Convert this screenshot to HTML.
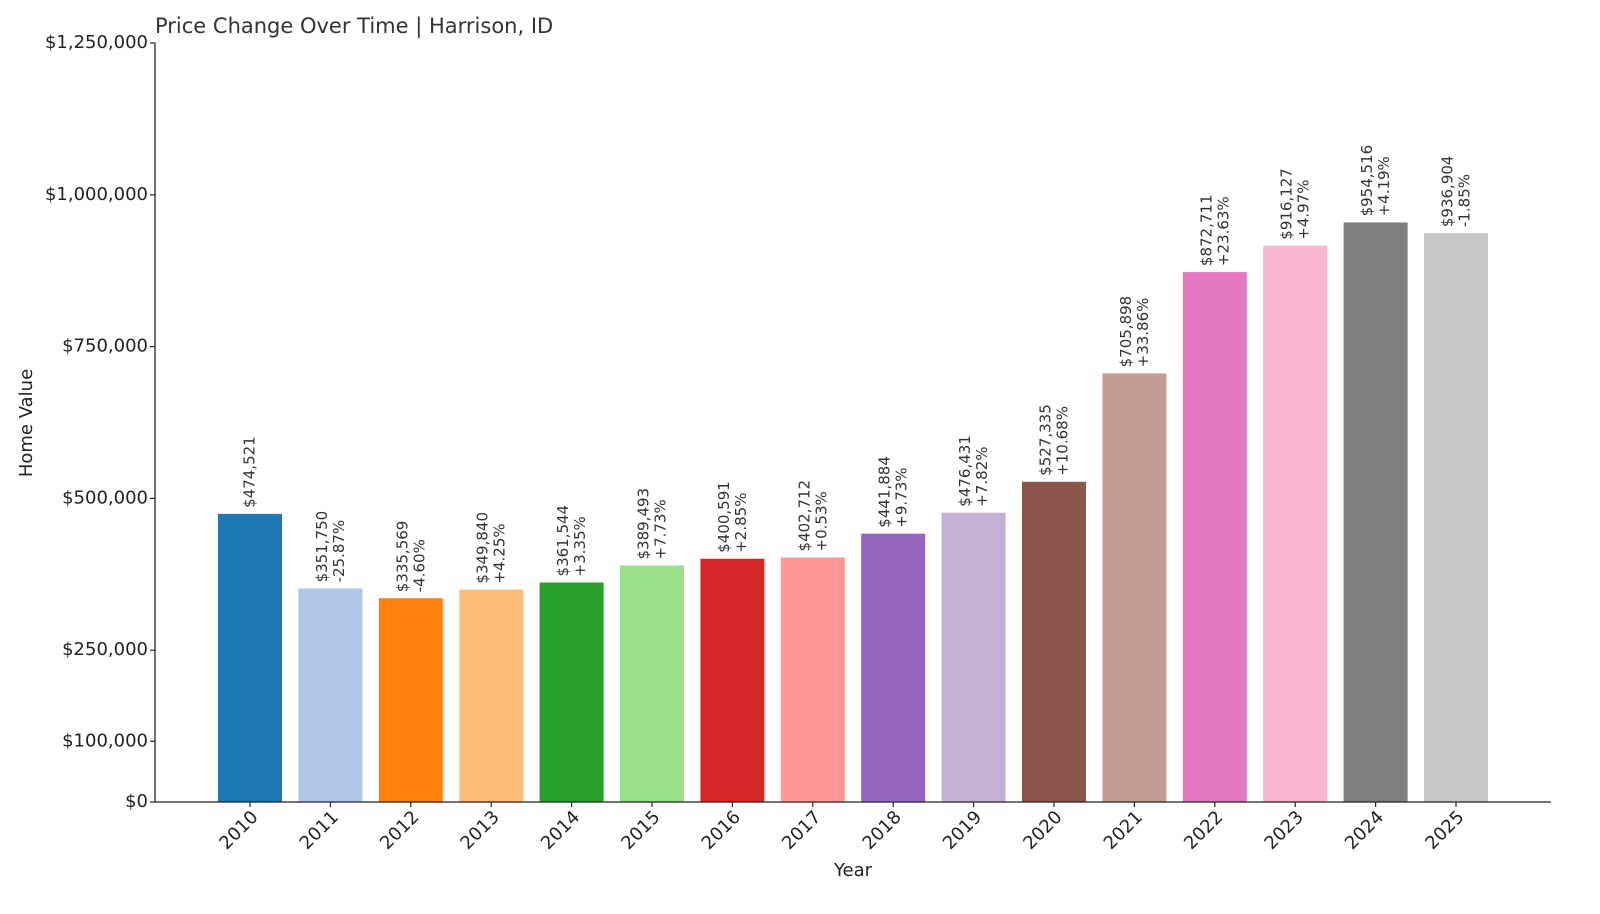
<!DOCTYPE html>
<html><head><meta charset="utf-8"><style>
body{margin:0;background:#fff}
svg{display:block;font-family:"DejaVu Sans","Liberation Sans",sans-serif}
</style></head><body>
<svg id="chart" width="1600" height="914" viewBox="0 0 1600 914" xmlns="http://www.w3.org/2000/svg">
<rect width="1600" height="914" fill="#fff"/>
<text x="155" y="33" font-size="21" fill="#333">Price Change Over Time | Harrison, ID</text>
<text transform="translate(32,423) rotate(-90)" text-anchor="middle" font-size="18" fill="#222">Home Value</text>
<text x="853" y="876" text-anchor="middle" font-size="18" fill="#222">Year</text>
<g id="bars"></g><g id="axes"></g>
</svg>
<script>
const years=["2010","2011","2012","2013","2014","2015","2016","2017","2018","2019","2020","2021","2022","2023","2024","2025"];
const values=[474521,351750,335569,349840,361544,389493,400591,402712,441884,476431,527335,705898,872711,916127,954516,936904];
const pctLabels=["","-25.87%","-4.60%","+4.25%","+3.35%","+7.73%","+2.85%","+0.53%","+9.73%","+7.82%","+10.68%","+33.86%","+23.63%","+4.97%","+4.19%","-1.85%"];
const yTicks=[0,100000,250000,500000,750000,1000000,1250000];
const colors=["#1f77b4","#aec7e8","#ff7f0e","#ffbb78","#2ca02c","#98df8a","#d62728","#ff9896","#9467bd","#c5b0d5","#8c564b","#c49c94","#e377c2","#f7b6d2","#7f7f7f","#c7c7c7"];
const NS="http://www.w3.org/2000/svg";
const X0=155,X1=1551,Y0=802,YT=43,YMAX=1250000;
const y=v=>Y0-(v/YMAX)*(Y0-YT);
const xc=i=>250+i*80.4;
const BW=64;
function mk(t,a,p){const e=document.createElementNS(NS,t);for(const k in a)e.setAttribute(k,a[k]);p.appendChild(e);return e;}
const fmt=v=>"$"+v.toLocaleString("en-US");
const bars=document.getElementById("bars"),axes=document.getElementById("axes");
values.forEach((v,i)=>{
  const r=mk("rect",{x:xc(i)-BW/2,y:y(v),width:BW,height:Y0-y(v),fill:colors[i]},bars);
  
  
  const top=y(v)-6;
  const two=pctLabels[i]!=="";
  const t1=mk("text",{transform:`translate(${xc(i)+(two?-8:0)},${top}) rotate(-90)`,"font-size":"15",fill:"#333","dominant-baseline":"middle"},bars);
  t1.textContent=fmt(v);
  
  
  if(two){
    const t2=mk("text",{transform:`translate(${xc(i)+9},${top}) rotate(-90)`,"font-size":"15",fill:"#333","dominant-baseline":"middle"},bars);
    t2.textContent=pctLabels[i];
    
    
  }
  mk("line",{x1:xc(i),x2:xc(i),y1:Y0,y2:Y0+5,stroke:"#222","stroke-width":1.2},axes);
  const tl=mk("text",{transform:`translate(${xc(i)+9},${Y0+16}) rotate(-45)`,"text-anchor":"end","font-size":"18",fill:"#222"},axes);
  tl.textContent=years[i];
  
  
});
const ya=mk("line",{x1:X0,x2:X0,y1:YT,y2:Y0,stroke:"#222","stroke-width":1.3},axes);


const xa=mk("line",{x1:X0,x2:X1,y1:Y0,y2:Y0,stroke:"#222","stroke-width":1.3},axes);


yTicks.forEach(v=>{
  mk("line",{x1:X0-5,x2:X0,y1:y(v),y2:y(v),stroke:"#222","stroke-width":1.2},axes);
  const t=mk("text",{x:X0-7,y:y(v),"text-anchor":"end","dominant-baseline":"middle","font-size":"18",fill:"#222"},axes);
  t.textContent=fmt(v);
  
  
});
</script>
</body></html>
